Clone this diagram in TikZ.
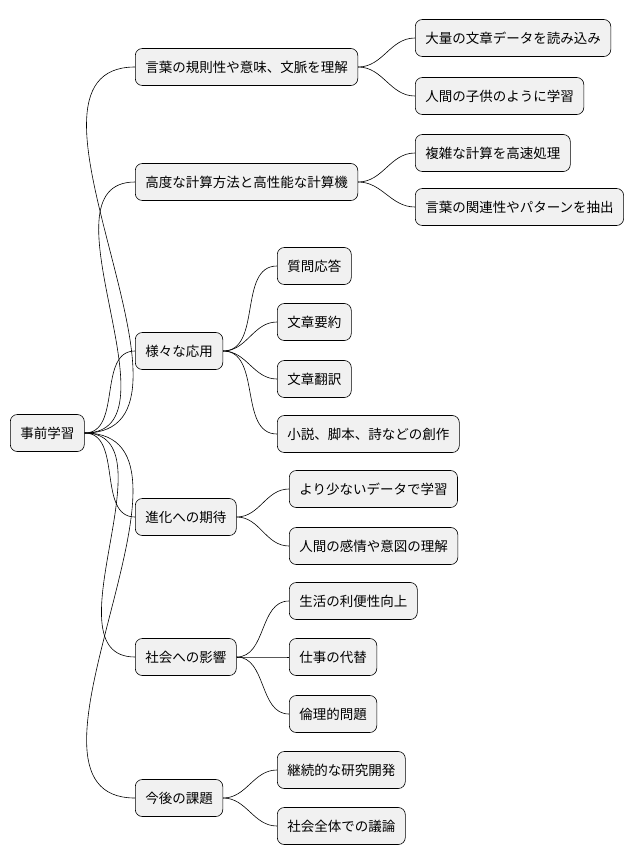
\documentclass[tikz,border=0pt]{standalone}
\usepackage{fontspec}
\setmainfont{Noto Sans CJK JP}
\tikzset{
  topic/.style={draw, rounded corners=7pt, fill=boxgray, line width=0.6pt,
    anchor=west, minimum height=37pt, inner xsep=10pt, font=\fontsize{13.5pt}{16pt}\selectfont},
  link/.style={line width=0.6pt}
}
\definecolor{boxgray}{HTML}{F1F1F1}
\begin{document}
\begin{tikzpicture}[x=1pt, y=-1pt]
  \useasboundingbox (0,0) rectangle (642,865);
  % root
  \node[topic] (root) at (10,433) {事前学習};
  % first level
  \node[topic] (rule) at (135,67) {言葉の規則性や意味、文脈を理解};
  \node[topic] (calc) at (135,182) {高度な計算方法と高性能な計算機};
  \node[topic] (app) at (135,351) {様々な応用};
  \node[topic] (evo) at (135,517) {進化への期待};
  \node[topic] (soc) at (135,657) {社会への影響};
  \node[topic] (task) at (135,798) {今後の課題};
  % second level
  \node[topic] (read) at (415,38) {大量の文章データを読み込み};
  \node[topic] (child) at (415,96) {人間の子供のように学習};
  \node[topic] (fast) at (415,153) {複雑な計算を高速処理};
  \node[topic] (pat) at (415,207) {言葉の関連性やパターンを抽出};
  \node[topic] (qa) at (277,266) {質問応答};
  \node[topic] (sum) at (277,322) {文章要約};
  \node[topic] (tr) at (277,379) {文章翻訳};
  \node[topic] (nov) at (277,434) {小説、脚本、詩などの創作};
  \node[topic] (less) at (289,489) {より少ないデータで学習};
  \node[topic] (emo) at (289,546) {人間の感情や意図の理解};
  \node[topic] (life) at (289,601) {生活の利便性向上};
  \node[topic] (job) at (289,657) {仕事の代替};
  \node[topic] (eth) at (289,714) {倫理的問題};
  \node[topic] (res) at (277,770) {継続的な研究開発};
  \node[topic] (dis) at (277,826) {社会全体での議論};
  % connectors
  \foreach \c in {rule,calc,app,evo,soc,task}
    \draw[link] (root.east) to[out=0, in=180] (\c.west);
  \foreach \p/\c in {rule/read, rule/child, calc/fast, calc/pat,
      app/qa, app/sum, app/tr, app/nov, evo/less, evo/emo,
      soc/life, soc/job, soc/eth, task/res, task/dis}
    \draw[link] (\p.east) to[out=0, in=180] (\c.west);
\end{tikzpicture}
\end{document}
